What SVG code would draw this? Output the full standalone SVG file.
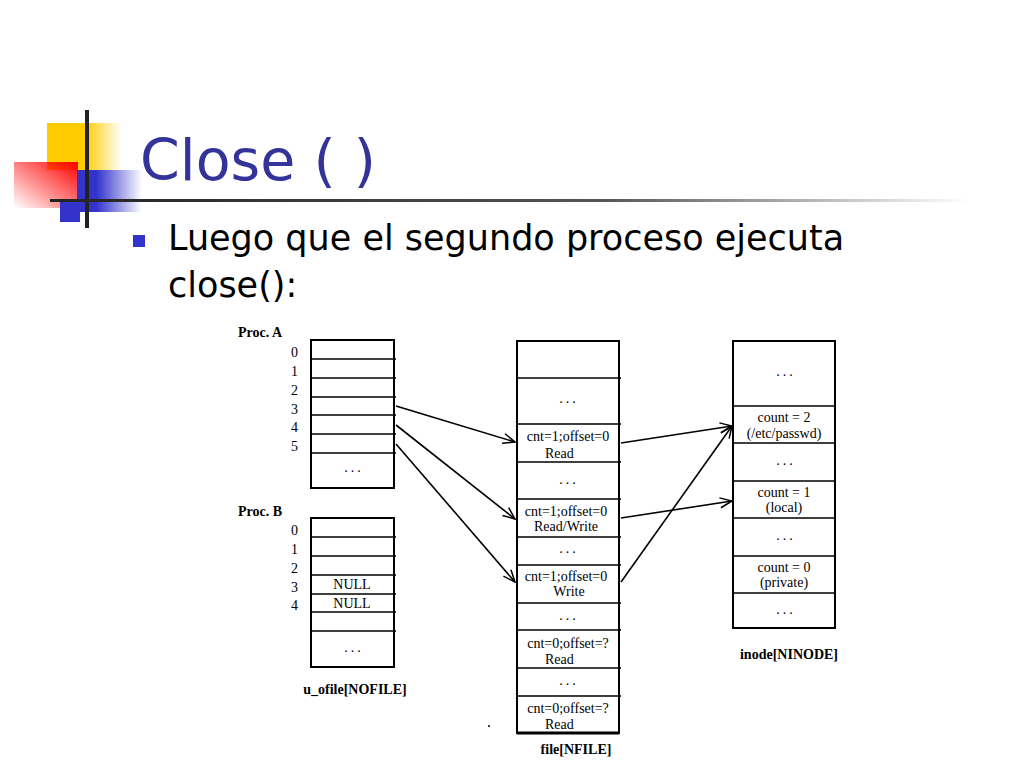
<svg xmlns="http://www.w3.org/2000/svg" width="1024" height="768" viewBox="0 0 1024 768">
<defs>
<linearGradient id="yl" x1="0" x2="1"><stop offset="0.5" stop-color="#FFCC00"/><stop offset="1" stop-color="#FFCC00" stop-opacity="0"/></linearGradient>
<linearGradient id="rd" x1="1" y1="0" x2="0" y2="1"><stop offset="0" stop-color="#FF0000"/><stop offset="1" stop-color="#FF0000" stop-opacity="0"/></linearGradient>
<linearGradient id="bl" x1="0" x2="1"><stop offset="0.3" stop-color="#3333CC"/><stop offset="1" stop-color="#3333CC" stop-opacity="0"/></linearGradient>
<linearGradient id="ln" x1="0" x2="1"><stop offset="0" stop-color="#222"/><stop offset="0.6" stop-color="#555"/><stop offset="1" stop-color="#555" stop-opacity="0"/></linearGradient>
<marker id="ar" markerWidth="14" markerHeight="12" refX="13" refY="6" orient="auto" markerUnits="userSpaceOnUse"><path d="M1,1 L13,6 L1,11" fill="none" stroke="#000" stroke-width="1.5"/></marker>
</defs>
<style>
.t{font-family:"Liberation Serif",serif;font-size:14px;fill:#000}
.c{text-anchor:middle}
.b{font-weight:bold}
.d{letter-spacing:3px}
.box{fill:#fff;stroke:#000;stroke-width:2}
.row{stroke:#000;stroke-width:1.5}
.cn{stroke:#000;stroke-width:1.6;fill:none;marker-end:url(#ar)}
</style>
<rect width="1024" height="768" fill="#fff"/>
<g id="logo">
<rect x="47" y="123" width="75" height="47" fill="url(#yl)"/>
<rect x="47" y="123" width="38" height="47" fill="#FFCC00"/>
<rect x="14" y="162" width="64" height="46" fill="url(#rd)"/>
<rect x="77" y="170" width="65" height="42" fill="url(#bl)"/>
<rect x="60" y="200" width="20" height="22" fill="#3333CC"/>
<line x1="87" y1="110" x2="87" y2="228" stroke="#222" stroke-width="4"/>
<rect x="50" y="199" width="920" height="3" fill="url(#ln)"/>
</g>
<text x="140" y="180" font-family="DejaVu Sans,sans-serif" font-size="57" fill="#333399">Close ( )</text>
<rect x="133" y="235" width="12" height="12" fill="#3333CC"/>
<text font-family="DejaVu Sans,sans-serif" font-size="35" fill="#000"><tspan x="168" y="250">Luego que el segundo proceso ejecuta</tspan><tspan x="168" y="297">close():</tspan></text>
<g id="procA">
<text class="t b" x="238" y="337">Proc. A</text>
<rect class="box" x="311" y="340" width="83" height="148"/>
<path class="row" d="M311 359H396M311 378H396M311 397H396M311 415H396M311 434H396M311 453H396"/>
<g class="t"><text x="291" y="357">0</text><text x="291" y="376">1</text><text x="291" y="395">2</text><text x="291" y="414">3</text><text x="291" y="432">4</text><text x="291" y="451">5</text></g>
<text class="t c d" x="354" y="472">...</text>
</g>
<g id="procB">
<text class="t b" x="238" y="516">Proc. B</text>
<rect class="box" x="311" y="518" width="83" height="149"/>
<path class="row" d="M311 537H396M311 556H396M311 575H396M311 594H396M311 612H396M311 631H396"/>
<g class="t"><text x="291" y="535">0</text><text x="291" y="554">1</text><text x="291" y="573">2</text><text x="291" y="592">3</text><text x="291" y="610">4</text></g>
<text class="t c" x="352" y="589">NULL</text><text class="t c" x="352" y="608">NULL</text>
<text class="t c d" x="354" y="652">...</text>
<text class="t b c" x="355" y="694">u_ofile[NOFILE]</text>
</g>
<g id="file">
<rect class="box" x="517" y="341" width="102" height="392"/>
<line x1="517" y1="733" x2="619" y2="733" stroke="#000" stroke-width="3"/>
<path class="row" d="M517 378H621M517 424H621M517 462H621M517 499H621M517 537H621M517 565H621M517 603H621M517 630H621M517 668H621M517 696H621"/>
<text class="t c d" x="569" y="403">...</text>
<text class="t c" x="568" y="441">cnt=1;offset=0</text><text class="t" x="545" y="458">Read</text>
<text class="t c d" x="569" y="484">...</text>
<text class="t c" x="566" y="516">cnt=1;offset=0</text><text class="t c" x="566" y="531">Read/Write</text>
<text class="t c d" x="569" y="553">...</text>
<text class="t c" x="566" y="581">cnt=1;offset=0</text><text class="t c" x="569" y="596">Write</text>
<text class="t c d" x="569" y="620">...</text>
<text class="t c" x="568" y="648">cnt=0;offset=?</text><text class="t" x="545" y="664">Read</text>
<text class="t c d" x="569" y="685">...</text>
<text class="t c" x="568" y="713">cnt=0;offset=?</text><text class="t" x="545" y="729">Read</text>
<text class="t b c" x="576" y="754">file[NFILE]</text>
<circle cx="489" cy="726" r="1" fill="#000"/>
</g>
<g id="inode">
<rect class="box" x="733" y="341" width="102" height="287"/>
<path class="row" d="M733 406H835M733 443H835M733 481H835M733 518H835M733 556H835M733 593H835"/>
<text class="t c d" x="786" y="376">...</text>
<text class="t c" x="784" y="422">count = 2</text><text class="t c" x="784" y="438">(/etc/passwd)</text>
<text class="t c d" x="786" y="465">...</text>
<text class="t c" x="784" y="497">count = 1</text><text class="t c" x="784" y="512">(local)</text>
<text class="t c d" x="786" y="540">...</text>
<text class="t c" x="784" y="572">count = 0</text><text class="t c" x="784" y="587">(private)</text>
<text class="t c d" x="786" y="614">...</text>
<text class="t b c" x="789" y="659">inode[NINODE]</text>
</g>
<g id="connectors">
<line class="cn" x1="396" y1="406" x2="515" y2="442"/>
<line class="cn" x1="396" y1="425" x2="515" y2="519"/>
<line class="cn" x1="396" y1="444" x2="515" y2="582"/>
<line class="cn" x1="621" y1="443" x2="732" y2="426"/>
<line class="cn" x1="621" y1="518" x2="732" y2="501"/>
<line class="cn" x1="621" y1="582" x2="732" y2="426"/>
</g>
</svg>
